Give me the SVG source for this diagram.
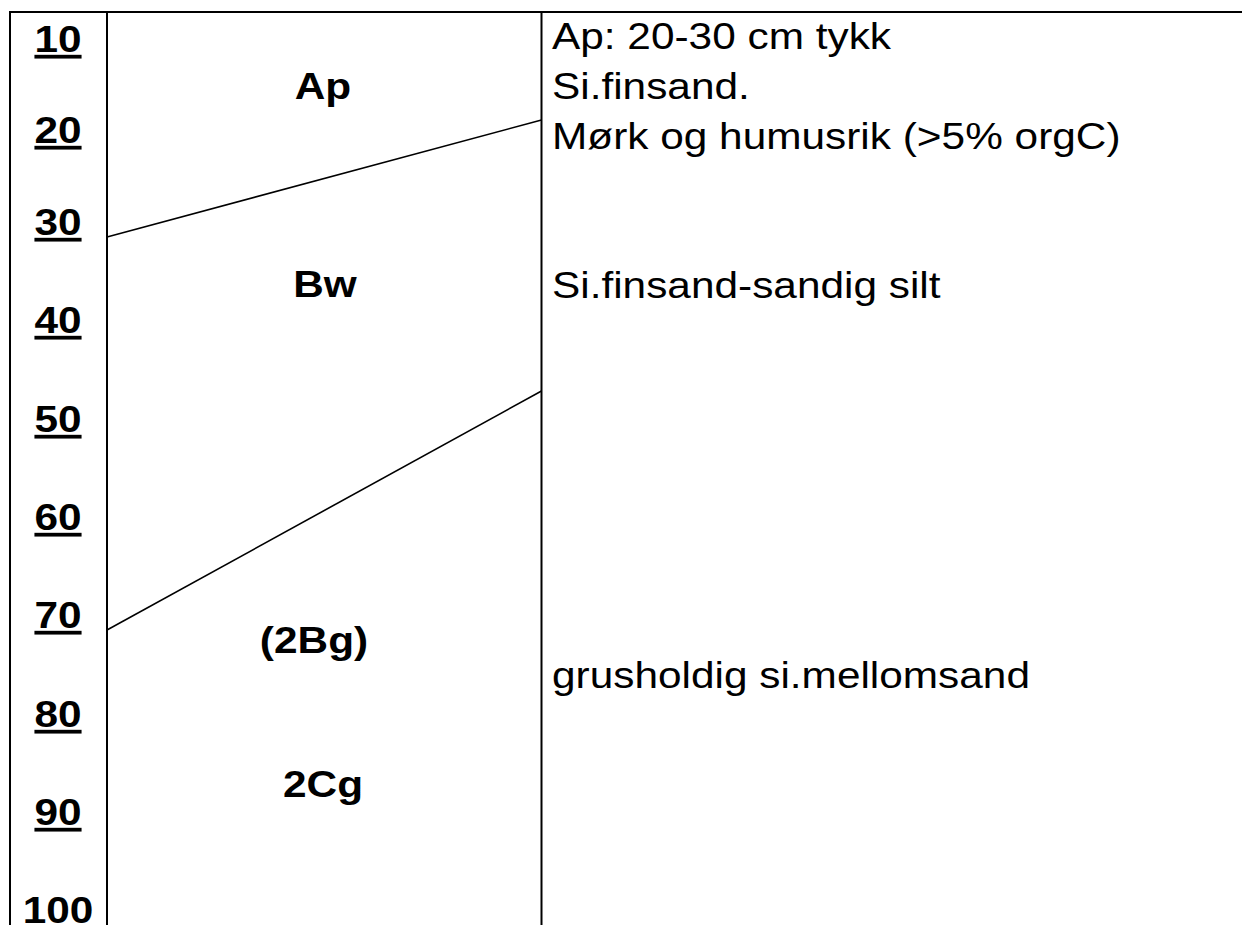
<svg xmlns="http://www.w3.org/2000/svg" width="1242" height="925" viewBox="0 0 1242 925">
<style>
text{font-family:"Liberation Sans",Arial,sans-serif;font-size:37.5px;fill:#000}
.b{font-weight:bold;text-anchor:middle}
.u{text-decoration:underline;text-decoration-thickness:4.5px;text-underline-offset:5px}
.frame{stroke:#000;stroke-width:2;fill:none}
.bound{stroke:#000;stroke-width:1.6;fill:none}
</style>
<rect width="1242" height="925" fill="#fff"/>
<g id="frame">
<line class="frame" x1="9" y1="12" x2="1242" y2="12"/>
<line class="frame" x1="10" y1="11" x2="10" y2="925"/>
<line class="frame" x1="107" y1="11" x2="107" y2="925"/>
<line class="frame" x1="541.5" y1="11" x2="541.5" y2="925"/>
</g>
<g id="depth-scale">
<text class="b u" transform="translate(58,52) scale(1.13,1)">10</text>
<text class="b u" transform="translate(58,143) scale(1.13,1)">20</text>
<text class="b u" transform="translate(58,235) scale(1.13,1)">30</text>
<text class="b u" transform="translate(58,333) scale(1.13,1)">40</text>
<text class="b u" transform="translate(58,432) scale(1.13,1)">50</text>
<text class="b u" transform="translate(58,530) scale(1.13,1)">60</text>
<text class="b u" transform="translate(58,628) scale(1.13,1)">70</text>
<text class="b u" transform="translate(58,727) scale(1.13,1)">80</text>
<text class="b u" transform="translate(58,825) scale(1.13,1)">90</text>
<text class="b" transform="translate(58,923) scale(1.13,1)">100</text>
</g>
<g id="connectors">
<line class="bound" x1="107" y1="237" x2="541.5" y2="120"/>
<line class="bound" x1="107" y1="630" x2="541.5" y2="391"/>
</g>
<g id="horizon-Ap">
<text class="b" transform="translate(323,99) scale(1.13,1)">Ap</text>
<text transform="translate(552,49) scale(1.13,1)">Ap: 20-30 cm tykk</text>
<text transform="translate(552,99) scale(1.13,1)">Si.finsand.</text>
<text transform="translate(552,149) scale(1.13,1)">Mørk og humusrik (&gt;5% orgC)</text>
</g>
<g id="horizon-Bw">
<text class="b" transform="translate(325,297) scale(1.13,1)">Bw</text>
<text transform="translate(552,298) scale(1.13,1)">Si.finsand-sandig silt</text>
</g>
<g id="horizon-2Bg">
<text class="b" transform="translate(314,653) scale(1.13,1)">(2Bg)</text>
<text transform="translate(552,688) scale(1.13,1)">grusholdig si.mellomsand</text>
</g>
<g id="horizon-2Cg">
<text class="b" transform="translate(323,797) scale(1.13,1)">2Cg</text>
</g>
</svg>
